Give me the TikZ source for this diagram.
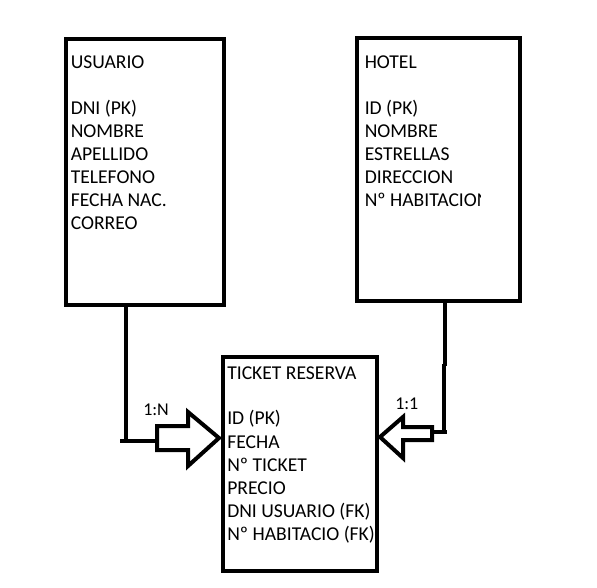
\documentclass[tikz,border=0pt]{standalone}
\usepackage{fontspec}
\setmainfont{Carlito}
\begin{document}
\begin{tikzpicture}[x=0.75pt,y=-0.75pt]
\tikzset{
  ent/.style={draw, line width=3pt, rectangle, inner sep=0pt},
  txt/.style={anchor=base west, inner sep=0pt, font=\fontsize{14.7}{17}\selectfont},
  lbl/.style={anchor=base west, inner sep=0pt, font=\fontsize{13.5}{16}\selectfont},
  conn/.style={line width=3pt},
  blk/.style={line width=3pt, fill=white, line join=miter}
}
\useasboundingbox[fill=white] (0,0) rectangle (597,588);
% entity boxes
\node[ent, minimum width=118.5pt, minimum height=199.5pt] (usuario) at (145,172) {};
\node[ent, minimum width=121.875pt, minimum height=197.25pt] (hotel) at (438.25,170) {};
\node[ent, minimum width=115.5pt, minimum height=160.125pt] (ticket) at (299.5,463.75) {};
% USUARIO text
\node[txt] (ut) at (70.5,69) {USUARIO};
\foreach \t [count=\i] in {DNI (PK),NOMBRE,APELLIDO,TELEFONO,FECHA NAC.,CORREO}
  \node[txt] (u\i) at (70.5,{115+23*(\i-1)}) {\t};
% HOTEL text
\node[txt] (ht) at (364.5,69) {HOTEL};
\foreach \t [count=\i] in {ID (PK),NOMBRE,ESTRELLAS,DIRECCION}
  \node[txt] (h\i) at (364.5,{115+23*(\i-1)}) {\t};
\begin{scope}
  \clip (360,190) rectangle (480.5,215);
  \node[txt] (h5) at (364.5,207) {Nº HABITACION};
\end{scope}
% TICKET text
\node[txt] (tt) at (227,379) {TICKET RESERVA};
\foreach \t [count=\i] in {ID (PK),FECHA,Nº TICKET,PRECIO,DNI USUARIO (FK),Nº HABITACIO (FK)}
  \node[txt] (t\i) at (227,{425+23*(\i-1)}) {\t};
% left connector
\coordinate (lbend) at (126,441);
\coordinate (lstub) at (120,441);
\coordinate (lend) at (160,441);
\draw[conn] (usuario.south -| lbend) -- (lbend);
\draw[conn] (lstub) -- (lend);
\draw[blk] (157,426) -- (188,426) -- (188,412) -- (219,438) -- (188,466) -- (188,450) -- (157,450) -- cycle;
\node[lbl] (l1) at (143,416) {1:N};
% right connector
\coordinate (rtop) at (445,366);
\coordinate (rjog) at (444,364);
\coordinate (rbend) at (444,432);
\coordinate (rend) at (430,432);
\draw[conn] (hotel.south -| rtop) -- (rtop);
\draw[conn] (rjog) -- (rbend) -- (rend);
\draw[conn] (rbend) -- ++(3,0);
\draw[blk] (432,427) -- (403,427) -- (403,417) -- (380,437) -- (403,458) -- (403,440) -- (432,440) -- cycle;
\node[lbl] (l2) at (395,410) {1:1};
\end{tikzpicture}
\end{document}
